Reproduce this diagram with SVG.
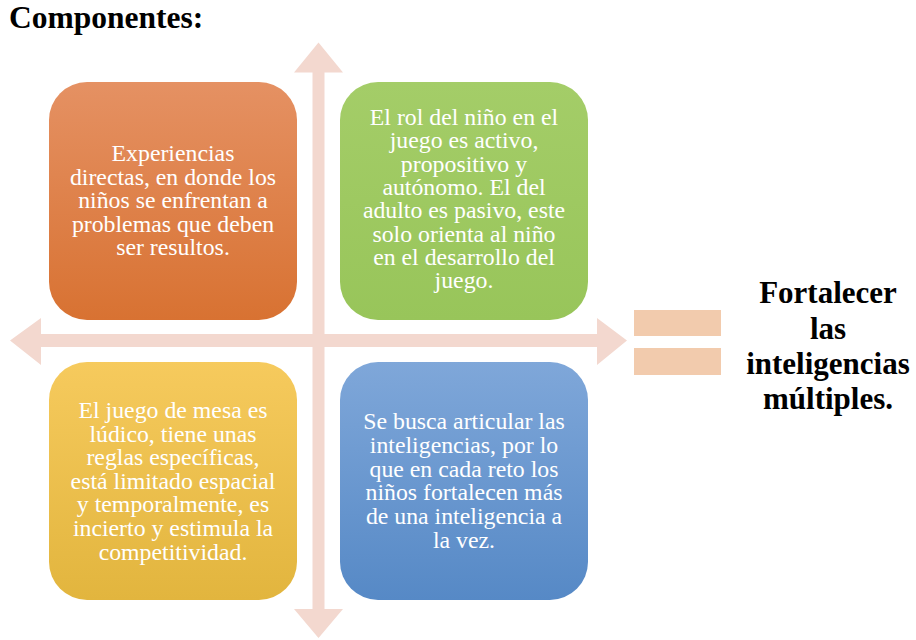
<svg xmlns="http://www.w3.org/2000/svg" width="916" height="640" viewBox="0 0 916 640">
<defs>
<linearGradient id="gO" x1="0" y1="0" x2="0" y2="1"><stop offset="0" stop-color="#E59163"/><stop offset="1" stop-color="#D87232"/></linearGradient>
<linearGradient id="gG" x1="0" y1="0" x2="0" y2="1"><stop offset="0" stop-color="#A4CD68"/><stop offset="1" stop-color="#98C55A"/></linearGradient>
<linearGradient id="gY" x1="0" y1="0" x2="0" y2="1"><stop offset="0" stop-color="#F6CA5D"/><stop offset="1" stop-color="#E2B53E"/></linearGradient>
<linearGradient id="gB" x1="0" y1="0" x2="0" y2="1"><stop offset="0" stop-color="#7FA7D9"/><stop offset="1" stop-color="#5689C6"/></linearGradient>
</defs>
<style>
.box text{font-family:"Liberation Serif","Times New Roman",serif;font-size:23.8px;fill:#fff;text-anchor:middle}
.arr{fill:#F3D8CF}
.eq{fill:#F2CBAD}
.bold{font-family:"Liberation Serif","Times New Roman",serif;font-weight:bold;fill:#000}
</style>
<text class="bold" x="9" y="28" font-size="31.5">Componentes:</text>
<g id="connectors">
<polygon class="arr" points="10,340.5 41,318 41,334 597,334 597,318 627,340.5 597,365 597,347 41,347 41,365"/>
<polygon class="arr" points="318.5,42.5 343,72.5 324.5,72.5 324.5,609 343,609 318.5,638 294,609 312.5,609 312.5,72.5 294,72.5"/>
</g>
<g id="orange" class="box">
<rect x="49" y="82" width="248" height="238" rx="38" fill="url(#gO)"/>
<text x="173" y="161">Experiencias</text>
<text x="173" y="184.5">directas, en donde los</text>
<text x="173" y="208">niños se enfrentan a</text>
<text x="173" y="231.5">problemas que deben</text>
<text x="173" y="255">ser resultos.</text>
</g>
<g id="green" class="box">
<rect x="340" y="82" width="248" height="238" rx="38" fill="url(#gG)"/>
<text x="464" y="125">El rol del niño en el</text>
<text x="464" y="148.3">juego es activo,</text>
<text x="464" y="171.6">propositivo y</text>
<text x="464" y="195">autónomo. El del</text>
<text x="464" y="218.3">adulto es pasivo, este</text>
<text x="464" y="241.6">solo orienta al niño</text>
<text x="464" y="265">en el desarrollo del</text>
<text x="464" y="288">juego.</text>
</g>
<g id="yellow" class="box">
<rect x="49" y="362" width="248" height="238" rx="38" fill="url(#gY)"/>
<text x="173" y="418">El juego de mesa es</text>
<text x="173" y="441.6">lúdico, tiene unas</text>
<text x="173" y="465.2">reglas específicas,</text>
<text x="173" y="488.8">está limitado espacial</text>
<text x="173" y="512.4">y temporalmente, es</text>
<text x="173" y="536">incierto y estimula la</text>
<text x="173" y="559.6">competitividad.</text>
</g>
<g id="blue" class="box">
<rect x="340" y="362" width="248" height="238" rx="38" fill="url(#gB)"/>
<text x="464" y="429">Se busca articular las</text>
<text x="464" y="452.8">inteligencias, por lo</text>
<text x="464" y="476.6">que en cada reto los</text>
<text x="464" y="500.4">niños fortalecen más</text>
<text x="464" y="524.2">de una inteligencia a</text>
<text x="464" y="548">la vez.</text>
</g>
<g id="equals">
<rect class="eq" x="634" y="310" width="87" height="26"/>
<rect class="eq" x="634" y="348" width="87" height="27"/>
</g>
<g id="result" class="bold" font-size="31" text-anchor="middle">
<text x="828" y="303">Fortalecer</text>
<text x="828" y="339">las</text>
<text x="828" y="374">inteligencias</text>
<text x="828" y="409">múltiples.</text>
</g>
</svg>
